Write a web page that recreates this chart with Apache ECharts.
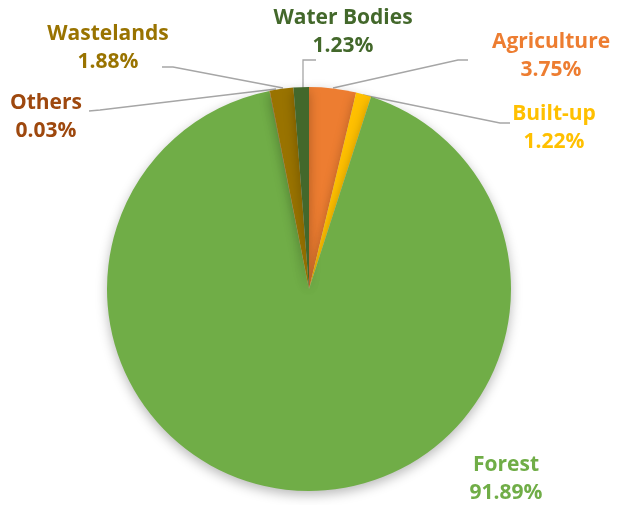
<!DOCTYPE html>
<html>
<head>
<meta charset="utf-8">
<script src="https://cdn.jsdelivr.net/npm/echarts@6/dist/echarts.min.js"></script>
<style>
  html, body { margin: 0; padding: 0; background: #ffffff; }
  #chart { width: 620px; height: 505px; }
</style>
</head>
<body>
<div id="chart"></div>
<script>
// Land use shares (%), listed clockwise from 12 o'clock
const categories = ['Agriculture', 'Built-up', 'Forest', 'Others', 'Wastelands', 'Water Bodies'];
const shares = [3.75, 1.22, 91.89, 0.03, 1.88, 1.23];
const sliceColors = ['#ED7D31', '#FFC000', '#70AD47', '#9E480E', '#997300', '#43682B'];
const labelColors = ['#ED7D31', '#FFC000', '#70AD47', '#9E480E', '#997300', '#43682B'];

// Where each callout sits and how its leader line runs
const calloutPos = {
  'Agriculture':  { x: 551, y: 56,  line: [[333, 88], [458, 60], [468, 60]] },
  'Built-up':     { x: 554, y: 128, line: [[363, 95], [500, 123], [510, 123]] },
  'Forest':       { x: 506, y: 479, line: null },
  'Others':       { x: 46,  y: 117, line: [[276, 89], [100, 110], [89, 111]] },
  'Wastelands':   { x: 108, y: 48,  line: [[283, 88], [173, 67], [162, 67]] },
  'Water Bodies': { x: 343, y: 32,  line: [[303, 88], [303, 60], [316, 60]] }
};

const chart = echarts.init(document.getElementById('chart'), null, { renderer: 'canvas' });

chart.setOption({
  animation: false,
  series: [{
    type: 'pie',
    center: [309, 289],
    radius: 202,
    startAngle: 90,
    clockwise: true,
    avoidLabelOverlap: false,
    data: categories.map((name, i) => ({
      name: name,
      value: shares[i],
      itemStyle: { color: sliceColors[i] },
      label: { color: labelColors[i] },
      labelLine: { show: calloutPos[name].line !== null }
    })),
    itemStyle: {
      borderWidth: 0,
      shadowBlur: 12,
      shadowOffsetY: 4,
      shadowColor: 'rgba(0,0,0,0.28)'
    },
    label: {
      show: true,
      formatter: '{b}\n{c}%',
      fontFamily: '"Open Sans", "Noto Sans", sans-serif',
      fontWeight: 'bold',
      fontSize: 21,
      lineHeight: 28,
      align: 'center'
    },
    labelLine: {
      show: true,
      lineStyle: { color: '#A6A6A6', width: 1.3 }
    },
    labelLayout: function (params) {
      const name = categories[params.dataIndex];
      const p = calloutPos[name];
      const out = { x: p.x, y: p.y, align: 'center', verticalAlign: 'middle' };
      if (p.line) out.labelLinePoints = p.line;
      return out;
    }
  }]
});
</script>
</body>
</html>
